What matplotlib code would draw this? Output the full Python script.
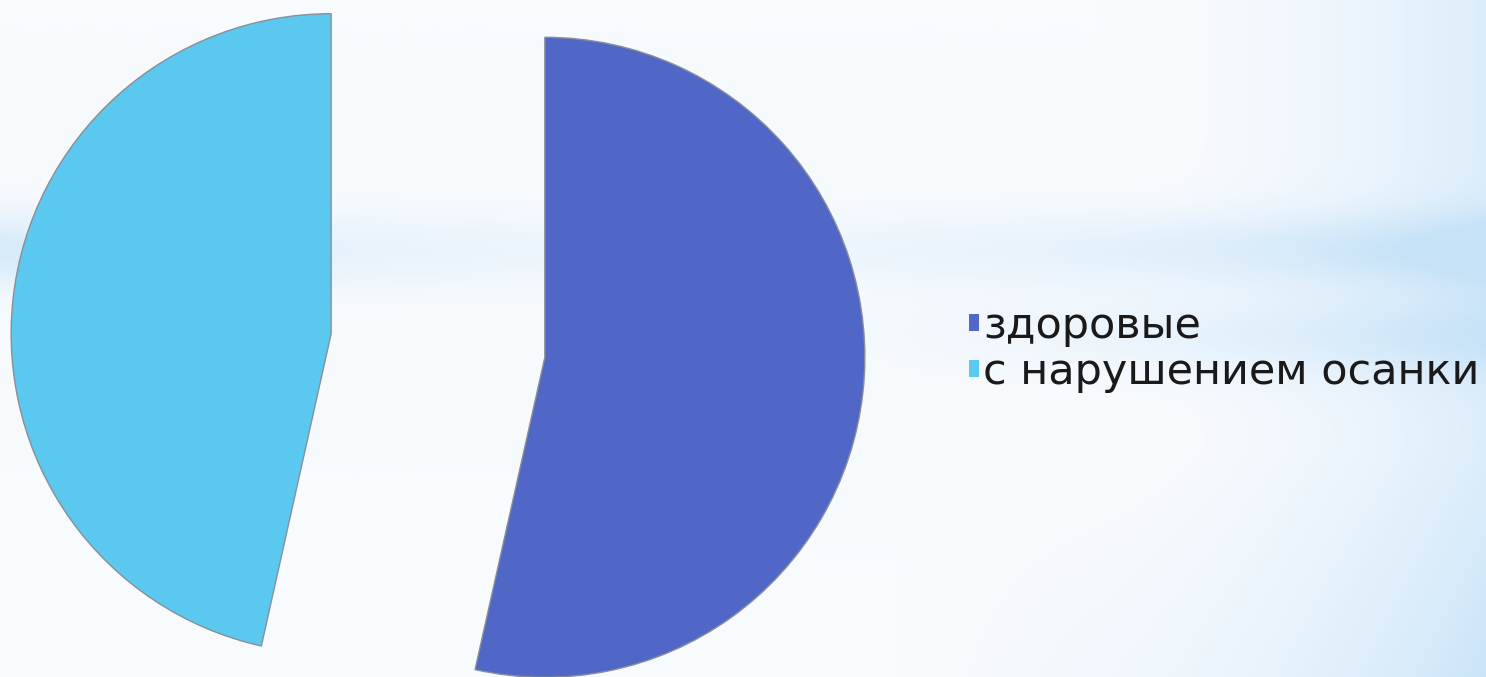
import numpy as np
import matplotlib.pyplot as plt

# data
labels = ['здоровые', 'с нарушением осанки']
values = [53.5, 46.5]
colors = ['#5067C8', '#5BC8F0']

W, H = 1486, 677
fig = plt.figure(figsize=(W / 100, H / 100), dpi=100)

# background gradient (white with light blue bands)
yy, xx = np.mgrid[0:H, 0:W]
side = 0.25 + 0.75 * (np.abs(xx - 700) / 760) ** 1.5
w = 0.7 * np.exp(-((yy - 250) / 38.0) ** 2) * side
w += 0.45 * np.exp(-((yy - 335) / 40.0) ** 2) * np.clip((xx - 800) / 600, 0, 1)
w += 0.55 * np.clip((xx - 1100) / 386, 0, 1) ** 2
w += 0.35 * np.clip((xx - 900) / 586, 0, 1) * np.clip((yy - 450) / 227, 0, 1)
w = np.clip(w, 0, 1)
white = np.array([248, 251, 254]) / 255
blue = np.array([198, 226, 247]) / 255
img = white[None, None, :] * (1 - w[..., None]) + blue[None, None, :] * w[..., None]
bg = fig.add_axes([0, 0, 1, 1])
bg.imshow(img, aspect='auto', extent=(0, W, 0, H), origin='upper')
bg.axis('off')

ax = fig.add_axes([0, 0, 1, 1])
ax.patch.set_alpha(0)
wedges, _ = ax.pie(values, colors=colors, startangle=90, counterclock=False,
                   radius=320, center=(438, 331.5), explode=[107.5, 107.5],
                   frame=True,
                   wedgeprops={'edgecolor': '#8a8f96', 'linewidth': 1.0})
ax.set_xlim(0, W)
ax.set_ylim(0, H)
ax.set_aspect('equal')
ax.axis('off')

leg = fig.legend(wedges, labels, loc='upper left',
                 bbox_to_anchor=(969 / W, 1 - 305 / H),
                 frameon=False, fontsize=31, handlelength=0.24, handleheight=0.24,
                 handletextpad=0.08, labelspacing=0.1, borderaxespad=0, borderpad=0)
for t in leg.get_texts():
    t.set_color('#1a1a1a')
for h in leg.legend_handles:
    h.set_edgecolor('none')

fig.savefig('out.png', dpi=100)
